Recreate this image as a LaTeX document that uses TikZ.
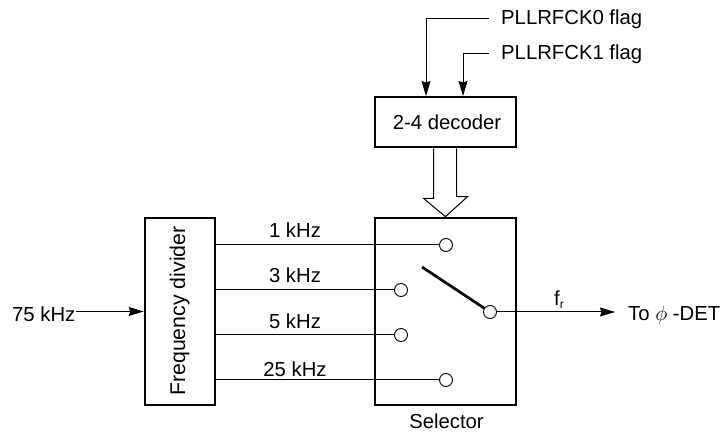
\documentclass[tikz,border=0pt]{standalone}
\usepackage{fontspec}
\setmainfont{Liberation Sans}
\usetikzlibrary{arrows.meta,calc}

\tikzset{
  blockbox/.style={draw, line width=2.7pt, minimum width=#1, inner sep=0pt},
  contact/.style={draw, circle, fill=white, minimum size=13pt, inner sep=0pt, line width=0.9pt},
  wire/.style={line width=1pt},
  flagwire/.style={wire, -{Stealth[length=15pt,width=9pt,inset=1.5pt]}},
  lbl/.style={inner sep=0pt, font=\fontsize{20.3}{23}\selectfont},
}

\begin{document}
\begin{tikzpicture}[x=1pt,y=-1pt]
  \useasboundingbox (0,0) rectangle (723,435);
  % blocks
  \node[blockbox=70pt, minimum height=187pt] (fdiv) at (180,311.5) {};
  \node[lbl, rotate=90, font=\fontsize{21.3}{23}\selectfont] (fdivtext) at (179.5,311) {Frequency divider};
  \node[blockbox=141pt, minimum height=187pt] (selector) at (445.5,311.5) {};
  \node[blockbox=141pt, minimum height=50pt] (decoder) at (445.5,122) {};
  \node[lbl] (dectext) at (447,122.5) {2-4 decoder};
  % contacts
  \node[contact] (c1) at (446,245) {};
  \node[contact] (c3) at (401,290) {};
  \node[contact] (c5) at (401,335) {};
  \node[contact] (c25) at (446,380) {};
  \node[contact] (cout) at (490,312) {};
  \coordinate (swend) at (422,267);
  % wires from the divider
  \draw[wire] (fdiv.east |- c1) -- (c1);
  \draw[wire] (fdiv.east |- c3) -- (c3);
  \draw[wire] (fdiv.east |- c5) -- (c5);
  \draw[wire] (fdiv.east |- c25) -- (c25);
  \node[lbl] (l1) at (295,230) {1 kHz};
  \node[lbl] (l3) at (295,275.5) {3 kHz};
  \node[lbl] (l5) at (295,321.5) {5 kHz};
  \node[lbl] (l25) at (295,369) {25 kHz};
  % switch arm
  \draw[line width=2.7pt] (swend) -- (cout);
  % output
  \node[lbl, anchor=west] (out) at (628,315) {To $\phi$ -DET};
  \coordinate (outend) at (615,312);
  \draw[flagwire] (cout) -- (outend);
  \node[lbl] (fr) at (559,300) {f\raisebox{-3pt}{\fontsize{12}{13}\selectfont r}};
  % input
  \node[lbl, anchor=west] (in) at (12,314) {75 kHz};
  \draw[flagwire] (in.east |- fdiv.west) -- (fdiv.west);
  % flags
  \node[lbl, anchor=west] (flag0) at (501,19) {PLLRFCK0 flag};
  \node[lbl, anchor=west] (flag1) at (501,54) {PLLRFCK1 flag};
  \coordinate (start0) at (489,19);
  \coordinate (start1) at (489,54);
  \coordinate (in0) at (426,96);
  \coordinate (in1) at (463,96);
  \draw[flagwire] (start0) -| (in0);
  \draw[flagwire] (start1) -| (in1);
  % bus arrow
  \draw[wire, fill=white] ($(decoder.south)+(-12,0)$) -- ++(0,50) -- ++(-10,0)
    -- (selector.north) -- ++(22,-20) -- ++(-11,0) -- ($(decoder.south)+(11,0)$);
  \node[lbl] (sel) at (446.5,421) {Selector};
\end{tikzpicture}
\end{document}
